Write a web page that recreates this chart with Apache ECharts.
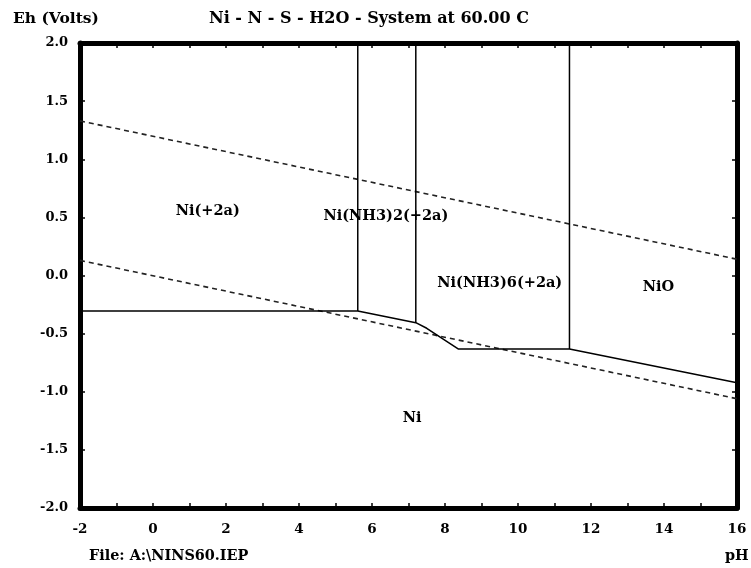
<!DOCTYPE html>
<html><head><meta charset="utf-8">
<script src="https://cdn.jsdelivr.net/npm/echarts@6/dist/echarts.min.js"></script>
<style>html,body{margin:0;padding:0;background:#fff}#c{width:751px;height:568px}</style>
</head><body><div id="c"></div>
<script>
const pHRange = [-2, 16];
const EhRange = [-2, 2];
const waterUpper = [[-2, 1.33], [16, 0.14]];
const waterLower = [[-2, 0.13], [16, -1.06]];
const niBoundary = [[-2, -0.305], [5.61, -0.305], [7.2, -0.406], [7.5, -0.454], [8.36, -0.632], [11.41, -0.632], [16, -0.922]];
const verticalPH = [5.61, 7.2, 11.41];
const verticalBottom = [-0.305, -0.406, -0.632];
const regionNames = ['Ni(+2a)', 'Ni(NH3)2(+2a)', 'Ni(NH3)6(+2a)', 'NiO', 'Ni'];
const regionPH = [1.5, 6.38, 9.5, 13.85, 7.1];
const regionEh = [0.55, 0.51, -0.07, -0.1, -1.23];

const FONT = '"DejaVu Serif", "Liberation Serif", serif';
const txt = (size) => ({fontFamily: FONT, fontWeight: 'bold', fontSize: size, color: '#000'});

const series = [];
series.push({type: 'line', data: waterUpper, symbol: 'none', lineStyle: {color: '#222', width: 1.6, type: [5, 4]}, z: 3});
series.push({type: 'line', data: waterLower, symbol: 'none', lineStyle: {color: '#222', width: 1.6, type: [5, 4]}, z: 3});
series.push({type: 'line', data: niBoundary, symbol: 'none', lineStyle: {color: '#000', width: 1.5}, z: 4});
verticalPH.forEach((x, i) => {
  series.push({type: 'line', data: [[x, EhRange[1]], [x, verticalBottom[i]]], symbol: 'none', lineStyle: {color: '#000', width: 1.5}, z: 4});
});
series.push({
  type: 'scatter', symbolSize: 0, itemStyle: {color: '#000', opacity: 1},
  data: regionNames.map((n, i) => ({value: [regionPH[i], regionEh[i]], name: n})),
  label: {show: true, position: 'inside', opacity: 1, formatter: p => p.name, ...txt(14.5), textBorderWidth: 0, textBorderColor: 'transparent'}, z: 5
});

const axisCommon = {
  axisLine: {show: true, onZero: false, lineStyle: {color: '#000', width: 5}},
  axisTick: {show: true, inside: true, length: 5, lineStyle: {color: '#000', width: 1.5}},
  splitLine: {show: false}
};

const chart = echarts.init(document.getElementById('c'));
chart.setOption({
  animation: false,
  backgroundColor: '#fff',
  title: [
    {text: 'Eh (Volts)', left: 8, top: 6, textStyle: txt(15.5)},
    {text: 'Ni - N - S - H2O - System at 60.00 C', left: 204, top: 6, textStyle: txt(16)},
    {text: 'File: A:\\NINS60.IEP', left: 84, top: 544, textStyle: txt(14.4)},
    {text: 'pH', left: 720, top: 544, textStyle: txt(14.4)}
  ],
  grid: {left: 80, right: 14, top: 43, bottom: 60},
  xAxis: [
    {type: 'value', min: pHRange[0], max: pHRange[1], interval: 1, position: 'bottom', ...axisCommon,
     axisLabel: {margin: 14, ...txt(13.5), formatter: v => (Math.round(v) % 2 === 0 ? String(v) : '')}},
    {type: 'value', min: pHRange[0], max: pHRange[1], interval: 1, position: 'top', ...axisCommon,
     axisLabel: {show: false}}
  ],
  yAxis: [
    {type: 'value', min: EhRange[0], max: EhRange[1], interval: 0.5, position: 'left', ...axisCommon,
     axisLabel: {margin: 12, ...txt(13), formatter: v => v.toFixed(1)}},
    {type: 'value', min: EhRange[0], max: EhRange[1], interval: 0.5, position: 'right', ...axisCommon,
     axisLabel: {show: false}}
  ],
  series: series
});
</script></body></html>
